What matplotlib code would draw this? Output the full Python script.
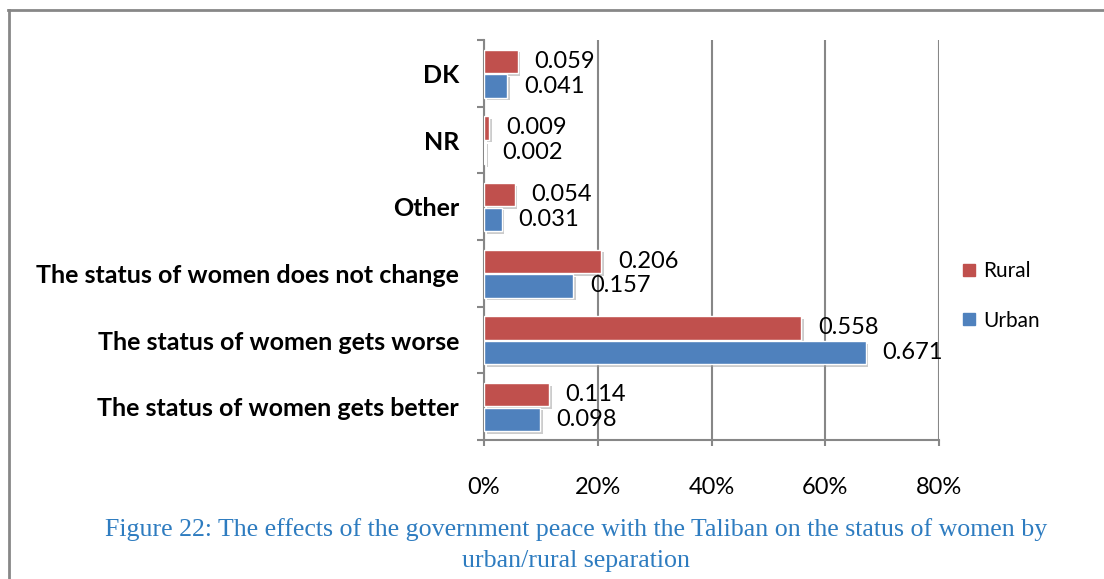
import numpy as np
import matplotlib
matplotlib.use("Agg")
import matplotlib.pyplot as plt
import matplotlib.patheffects as pe
from matplotlib.lines import Line2D

# categories, bottom to top
categories = [
    "The status of women gets better",
    "The status of women gets worse",
    "The status of women does not change",
    "Other",
    "NR",
    "DK",
]
rural = [0.114, 0.558, 0.206, 0.054, 0.009, 0.059]
urban = [0.098, 0.671, 0.157, 0.031, 0.002, 0.041]
xticks = [0, 0.2, 0.4, 0.6, 0.8]
xtick_labels = ["0%", "20%", "40%", "60%", "80%"]

red = "#C0504D"
blue = "#4F81BD"
grey = "#878787"

plt.rcParams["font.family"] = ["Lato", "DejaVu Sans"]

fig = plt.figure(figsize=(11.04, 5.79), dpi=100)
ax = fig.add_axes([484 / 1104, 1 - 440 / 579, 455 / 1104, 400 / 579])

y = np.arange(len(categories))
h = 0.35
shadow = [pe.SimplePatchShadow(offset=(2, -2), shadow_rgbFace="#9a9a9a", alpha=0.5), pe.Normal()]

bars_r = ax.barh(y + 0.18, rural, height=h, color=red, edgecolor="white", linewidth=1, zorder=3)
bars_u = ax.barh(y - 0.19, urban, height=h, color=blue, edgecolor="white", linewidth=1, zorder=3)
for b in list(bars_r) + list(bars_u):
    b.set_path_effects(shadow)

# value labels
for yy, v in zip(y + 0.18, rural):
    ax.annotate(f"{v:.3f}", (v, yy), xytext=(12, 0), textcoords="offset points",
                va="center", ha="left", fontsize=17, color="black")
for yy, v in zip(y - 0.19, urban):
    ax.annotate(f"{v:.3f}", (v, yy), xytext=(12, 0), textcoords="offset points",
                va="center", ha="left", fontsize=17, color="black")

ax.set_xlim(0, 0.8)
ax.set_ylim(-0.5, len(categories) - 0.5)
ax.set_xticks(xticks)
ax.set_xticklabels(xtick_labels, fontsize=17)
ax.tick_params(axis="x", length=4, color=grey, width=1.5, pad=23)

ax.set_yticks(y)
ax.set_yticklabels(categories, fontsize=18, fontweight="bold")
ax.tick_params(axis="y", which="major", length=0, pad=18)
ax.set_yticks(np.arange(len(categories) + 1) - 0.5, minor=True)
ax.tick_params(axis="y", which="minor", length=5, color=grey, width=1.5)

ax.grid(axis="x", color=grey, linewidth=1.5, zorder=0)
ax.set_axisbelow(True)
for s in ["top", "right"]:
    ax.spines[s].set_visible(False)
for s in ["left", "bottom"]:
    ax.spines[s].set_color(grey)
    ax.spines[s].set_linewidth(1.5)

# legend
handles = [
    Line2D([], [], marker="s", linestyle="none", markersize=8, color=red, label="Rural"),
    Line2D([], [], marker="s", linestyle="none", markersize=8, color=blue, label="Urban"),
]
fig.legend(handles=handles, loc="center left", bbox_to_anchor=(944 / 1104, 1 - 296 / 579),
           frameon=False, fontsize=15, labelspacing=1.4, handlelength=0.6,
           handletextpad=0.4)

# caption
fig.text(576 / 1104, 1 - 545 / 579,
         "Figure 22: The effects of the government peace with the Taliban on the status of women by\nurban/rural separation",
         ha="center", va="center", fontsize=18.6, color="#2E7CC0",
         family="Liberation Serif", linespacing=1.5)

# frame lines
fig.add_artist(Line2D([8 / 1104, 1], [1 - 10 / 579, 1 - 10 / 579], color=grey, linewidth=2,
                      transform=fig.transFigure))
fig.add_artist(Line2D([9 / 1104, 9 / 1104], [1 - 10 / 579, 0], color=grey, linewidth=2,
                      transform=fig.transFigure))

fig.savefig("out.png", dpi=100)
